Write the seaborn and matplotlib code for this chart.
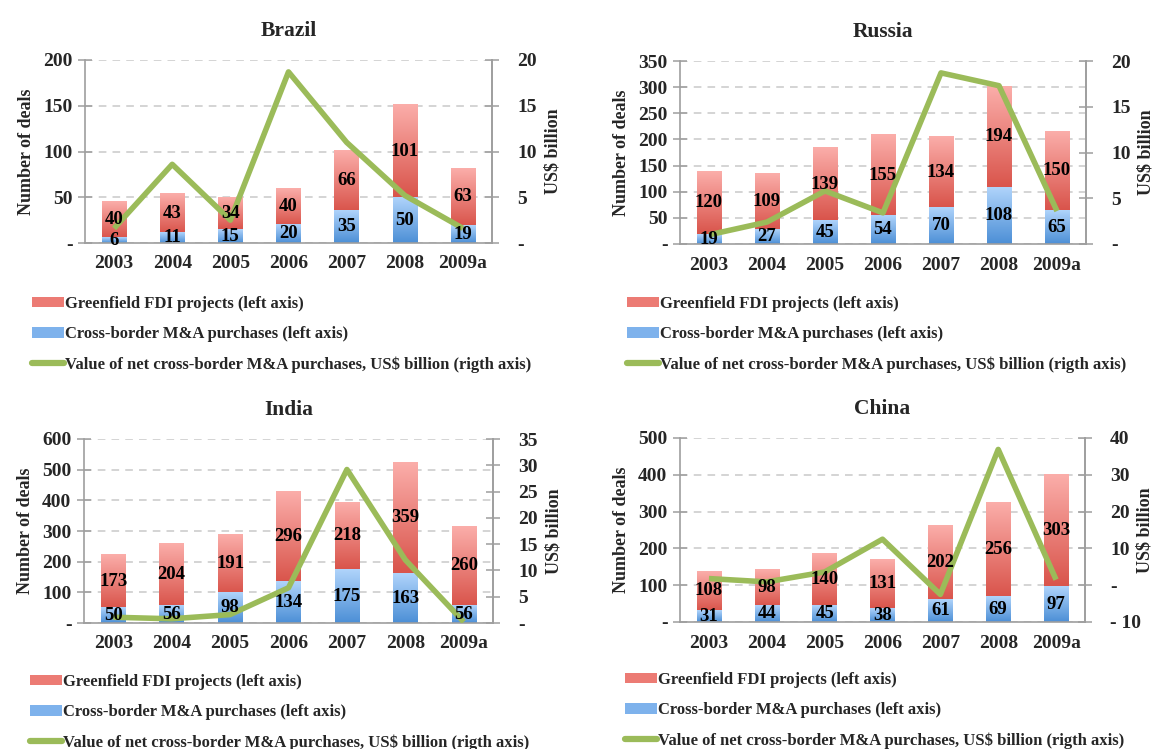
import numpy as np
import pandas as pd
import matplotlib
matplotlib.use("Agg")
import matplotlib.pyplot as plt
from matplotlib.lines import Line2D
from matplotlib.patches import Patch
from matplotlib.colors import LinearSegmentedColormap
from matplotlib.ticker import FixedLocator, FuncFormatter
import seaborn as sns

# ---- data -----------------------------------------------------------------
years = ["2003", "2004", "2005", "2006", "2007", "2008", "2009a"]

brazil_mna = [6, 11, 15, 20, 35, 50, 19]
brazil_greenfield = [40, 43, 34, 40, 66, 101, 63]
brazil_value = [1.6, 8.6, 2.5, 18.7, 11.0, 5.2, 1.6]

russia_mna = [19, 27, 45, 54, 70, 108, 65]
russia_greenfield = [120, 109, 139, 155, 134, 194, 150]
russia_value = [1.0, 2.4, 5.8, 3.4, 18.7, 17.3, 3.6]

india_mna = [50, 56, 98, 134, 175, 163, 56]
india_greenfield = [173, 204, 191, 296, 218, 359, 260]
india_value = [1.1, 0.8, 1.6, 6.7, 29.2, 12.0, 0.2]

china_mna = [31, 44, 45, 38, 61, 69, 97]
china_greenfield = [108, 98, 140, 131, 202, 256, 303]
china_value = [1.8, 0.9, 3.6, 12.5, -2.5, 36.9, 1.5]

left_ticks = {
    "Brazil": [0, 50, 100, 150, 200],
    "Russia": [0, 50, 100, 150, 200, 250, 300, 350],
    "India": [0, 100, 200, 300, 400, 500, 600],
    "China": [0, 100, 200, 300, 400, 500],
}
right_ticks = {
    "Brazil": [0, 5, 10, 15, 20],
    "Russia": [0, 5, 10, 15, 20],
    "India": [0, 5, 10, 15, 20, 25, 30, 35],
    "China": [-10, 0, 10, 20, 30, 40],
}

legend_labels = [
    "Greenfield FDI projects (left axis)",
    "Cross-border M&A purchases (left axis)",
    "Value of net cross-border M&A purchases, US$ billion (rigth axis)",
]

# ---- style ----------------------------------------------------------------
sns.set_theme(style="white")
plt.rcParams["font.family"] = ["Liberation Serif", "DejaVu Serif"]
plt.rcParams["font.weight"] = "bold"
plt.rcParams["axes.titleweight"] = "bold"
plt.rcParams["axes.labelweight"] = "bold"

W, H = 1154, 749
RED_TOP, RED_BOT = "#fbaeaa", "#d9544b"
BLUE_TOP, BLUE_BOT = "#b0d4fb", "#4c8fd6"
GREEN = "#9bbb59"
SPINE = "#9e9e9e"
GRID = "#c9c9c9"

red_cmap = LinearSegmentedColormap.from_list("red_grad", [RED_BOT, RED_TOP])
blue_cmap = LinearSegmentedColormap.from_list("blue_grad", [BLUE_BOT, BLUE_TOP])

fig = plt.figure(figsize=(W / 100, H / 100), dpi=100)


def px_rect(x0, y0, x1, y1):
    return [x0 / W, 1 - y1 / H, (x1 - x0) / W, (y1 - y0) / H]


def zero_dash(v, _pos):
    if v == 0:
        return "-"
    if v < 0:
        return "- %d" % abs(v)
    return "%d" % v


def shade(ax, container, bottoms, cmap):
    grad = np.linspace(0, 1, 256).reshape(-1, 1)
    for patch, b in zip(container.patches, bottoms):
        x, w = patch.get_x(), patch.get_width()
        top = patch.get_y() + patch.get_height()
        ax.imshow(grad, extent=(x, x + w, b, top), origin="lower", cmap=cmap,
                  aspect="auto", zorder=2, interpolation="bilinear")
        patch.set_visible(False)


def panel(name, mna, greenfield, value, rect, legend_xy):
    df = pd.DataFrame({
        "year": years,
        "mna": mna,
        "greenfield": greenfield,
    })
    df["total"] = df["mna"] + df["greenfield"]

    ax = fig.add_axes(px_rect(*rect))
    sns.barplot(data=df, x="year", y="total", color=RED_BOT, width=0.42,
                errorbar=None, ax=ax, zorder=2)
    sns.barplot(data=df, x="year", y="mna", color=BLUE_BOT, width=0.42,
                errorbar=None, ax=ax, zorder=2)
    xlim = ax.get_xlim()
    shade(ax, ax.containers[0], df["mna"], red_cmap)
    shade(ax, ax.containers[1], [0] * len(df), blue_cmap)
    ax.set_xlim(xlim)

    lt = left_ticks[name]
    ax.set_ylim(lt[0], lt[-1])
    ax.yaxis.set_major_locator(FixedLocator(lt))
    ax.yaxis.set_major_formatter(FuncFormatter(zero_dash))
    ax.yaxis.grid(True, color=GRID, linestyle=(0, (5, 4)), linewidth=1.1, zorder=0)
    ax.set_axisbelow(True)
    ax.set_xlabel("")
    ax.set_ylabel("Number of deals", fontsize=13, labelpad=6)
    ax.set_title(name, fontsize=15.5, pad=17)

    ax.tick_params(axis="x", which="major", length=0, pad=9, labelsize=14)
    ax.set_xticks(np.arange(-0.5, len(years), 1), minor=True)
    ax.tick_params(axis="x", which="minor", length=6, direction="out",
                   color=SPINE, width=1.1)
    ax.tick_params(axis="y", length=10, direction="inout", color=SPINE,
                   width=1.1, pad=4, labelsize=14)
    for side in ("left", "right", "bottom"):
        ax.spines[side].set_color(SPINE)
        ax.spines[side].set_linewidth(1.2)
    ax.spines["top"].set_visible(False)

    ax2 = ax.twinx()
    sns.lineplot(x=np.arange(len(years)), y=value, ax=ax2, color=GREEN,
                 linewidth=4, solid_capstyle="butt")
    rt = right_ticks[name]
    ax2.set_ylim(rt[0], rt[-1])
    ax2.yaxis.set_major_locator(FixedLocator(rt))
    ax2.yaxis.set_major_formatter(FuncFormatter(zero_dash))
    ax2.set_ylabel("US$ billion", fontsize=13)
    ax2.yaxis.set_label_coords(1.128, 0.5)
    ax2.tick_params(axis="y", length=10, direction="inout", color=SPINE,
                    width=1.1, pad=13, labelsize=14)
    for side in ("left", "top", "bottom"):
        ax2.spines[side].set_visible(False)
    ax2.spines["right"].set_color(SPINE)
    ax2.spines["right"].set_linewidth(1.2)
    ax2.set_xlim(xlim)

    # segment values, drawn above the line
    for i, (m, g) in enumerate(zip(df["mna"], df["greenfield"])):
        ax2.text(i, m / 2, str(m), transform=ax.transData, ha="center",
                 va="center", fontsize=13.5, fontweight="bold", color="black")
        ax2.text(i, m + g / 2, str(g), transform=ax.transData, ha="center",
                 va="center", fontsize=13.5, fontweight="bold", color="black")

    handles = [
        Patch(facecolor="#ec7b74", edgecolor="none"),
        Patch(facecolor="#7eb2ec", edgecolor="none"),
        Line2D([0], [0], color=GREEN, linewidth=4.5, solid_capstyle="round"),
    ]
    fig.legend(handles, legend_labels, loc="upper left",
               bbox_to_anchor=(legend_xy[0] / W, 1 - legend_xy[1] / H),
               frameon=False, fontsize=12, borderpad=0, borderaxespad=0,
               handlelength=1.9, handleheight=0.6, handletextpad=0.1,
               labelspacing=0.85)


panel("Brazil", brazil_mna, brazil_greenfield, brazil_value,
      (85, 60, 492, 243), (32, 296))
panel("Russia", russia_mna, russia_greenfield, russia_value,
      (680, 61, 1086, 244), (627, 296))
panel("India", india_mna, india_greenfield, india_value,
      (84, 439, 493, 623), (30, 674))
panel("China", china_mna, china_greenfield, china_value,
      (680, 438, 1085, 622), (625, 672))

fig.savefig("out.png", dpi=100)
